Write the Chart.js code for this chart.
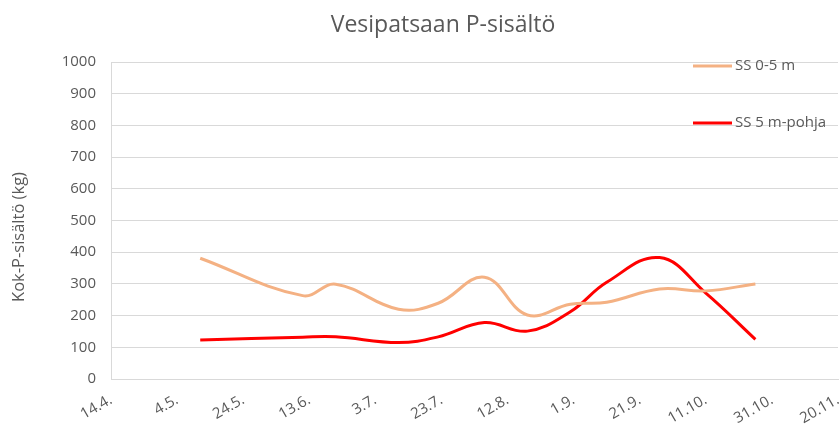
<!DOCTYPE html>
<html>
<head>
<meta charset="utf-8">
<script src="https://cdn.jsdelivr.net/npm/chart.js@4.4.1/dist/chart.umd.min.js"></script>
<style>
  html, body { margin: 0; padding: 0; background: #fff; }
  #wrap { width: 840px; height: 426px; }
</style>
</head>
<body>
<div id="wrap"><canvas id="c"></canvas></div>
<script>
// --- Data ---
const sampleDates = ['11.5.', '11.6.', '21.6.', '10.7.', '22.7.', '5.8.', '18.8.', '31.8.', '11.9.', '27.9.', '11.10.', '26.10.'];
const surfaceP = [381, 263, 299, 220, 239, 321, 202, 236, 242, 284, 278, 300];   // SS 0-5 m
const deepP = [123, 132, 133, 115, 133, 178, 151, 212, 305, 383, 271, 125];      // SS 5 m-pohja
const tickDates = ['14.4.', '4.5.', '24.5.', '13.6.', '3.7.', '23.7.', '12.8.', '1.9.', '21.9.', '11.10.', '31.10.', '20.11.'];
const seriesNames = ['SS 0-5 m', 'SS 5 m-pohja'];
const seriesColors = ['#F4B183', '#FF0000'];

const TITLE = 'Vesipatsaan P-sisältö';
const Y_TITLE = 'Kok-P-sisältö (kg)';
const GREY = '#595959';

// "d.m." -> day of year
function dayOfYear(s) {
  const [d, m] = s.split('.').map(Number);
  return (Date.UTC(2021, m - 1, d) - Date.UTC(2021, 0, 1)) / 86400000 + 1;
}
function labelOf(day) {
  const dt = new Date(Date.UTC(2021, 0, 1) + (day - 1) * 86400000);
  return dt.getUTCDate() + '.' + (dt.getUTCMonth() + 1) + '.';
}

const xs = sampleDates.map(dayOfYear);
const tickDays = tickDates.map(dayOfYear);

// --- Title, axis title and legend drawn over the chart ---
const decorations = {
  id: 'decorations',
  afterDraw(chart) {
    const ctx = chart.ctx;
    ctx.save();
    ctx.fillStyle = GREY;
    ctx.textAlign = 'center';
    ctx.textBaseline = 'middle';
    ctx.font = "23px 'Open Sans', sans-serif";
    ctx.fillText(TITLE, 443, 25);

    ctx.font = "16.5px 'Open Sans', sans-serif";
    ctx.translate(19, 237);
    ctx.rotate(-Math.PI / 2);
    ctx.fillText(Y_TITLE, 0, 0);
    ctx.restore();

    ctx.save();
    ctx.font = "15px 'Open Sans', sans-serif";
    ctx.textAlign = 'left';
    ctx.textBaseline = 'middle';
    seriesNames.forEach((name, i) => {
      const y = 66 + i * 57;
      ctx.strokeStyle = seriesColors[i];
      ctx.lineWidth = 3;
      ctx.beginPath();
      ctx.moveTo(693, y);
      ctx.lineTo(732, y);
      ctx.stroke();
      ctx.fillStyle = GREY;
      ctx.fillText(name, 735, y);
    });
    ctx.restore();
  }
};

Chart.defaults.font.family = "'Open Sans', sans-serif";
Chart.defaults.color = GREY;

new Chart(document.getElementById('c'), {
  type: 'line',
  data: {
    datasets: [
      { label: seriesNames[0], data: xs.map((x, i) => ({ x, y: surfaceP[i] })),
        borderColor: seriesColors[0], borderWidth: 3, tension: 0.4, pointRadius: 0, fill: false },
      { label: seriesNames[1], data: xs.map((x, i) => ({ x, y: deepP[i] })),
        borderColor: seriesColors[1], borderWidth: 3, tension: 0.4, pointRadius: 0, fill: false }
    ]
  },
  options: {
    responsive: true,
    maintainAspectRatio: false,
    animation: false,
    layout: { padding: { top: 62, left: 0, right: 2, bottom: 0 } },
    plugins: {
      legend: { display: false },
      title: { display: false },
      tooltip: { enabled: false }
    },
    scales: {
      x: {
        type: 'linear',
        min: tickDays[0],
        max: tickDays[tickDays.length - 1],
        afterBuildTicks: s => { s.ticks = tickDays.map(v => ({ value: v })); },
        afterFit: s => { s.height = 47; s.paddingLeft = 0; s.paddingRight = 0; },
        grid: { display: false, drawTicks: false },
        border: { display: true, color: '#d9d9d9', width: 1 },
        ticks: {
          autoSkip: false, minRotation: 30, maxRotation: 30, padding: 12,
          font: { size: 15 }, color: GREY,
          callback: v => labelOf(v)
        }
      },
      y: {
        min: 0, max: 1000,
        afterFit: s => { s.width = 111; },
        grid: { color: '#d9d9d9', drawTicks: false },
        border: { display: true, color: '#d9d9d9', width: 1 },
        ticks: { stepSize: 100, padding: 15, font: { size: 15 }, color: GREY, callback: v => String(v) }
      }
    }
  },
  plugins: [decorations]
});
</script>
</body>
</html>
